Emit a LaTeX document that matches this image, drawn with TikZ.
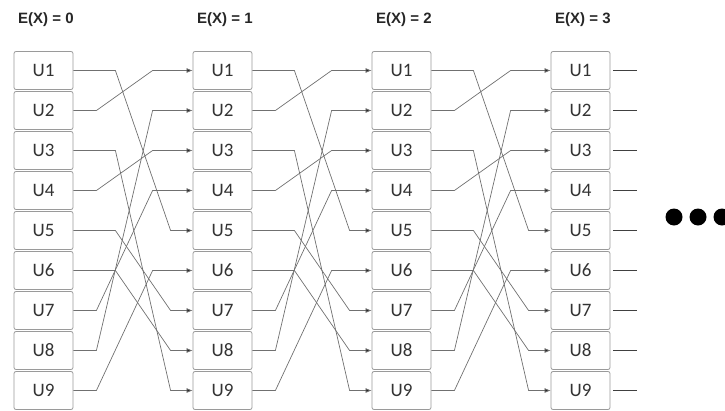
\documentclass[tikz,border=0pt]{standalone}
\usepackage{fontspec}
\setmainfont{Carlito}
\newfontfamily\hdfont{Liberation Sans}
\usetikzlibrary{arrows.meta}
\definecolor{boxline}{HTML}{9A9A9A}
\definecolor{connline}{HTML}{707070}
\definecolor{txt}{HTML}{333333}
\tikzset{
  ubox/.style={draw=boxline, line width=0.8pt, rounded corners=2pt, minimum width=59pt, minimum height=38pt, inner sep=0pt, text=txt, font=\fontsize{19}{21}\selectfont},
  hdr/.style={anchor=west, inner sep=0pt, text=black!85, font=\hdfont\bfseries\fontsize{15}{17}\selectfont},
  conn/.style={draw=connline, line width=0.7pt, -{Latex[length=6pt,width=5pt,fill=black!85]}},
  stub/.style={draw=black!75, line width=1pt},
  bigdot/.style={circle, fill=black, inner sep=0pt, minimum size=17pt}
}
\begin{document}
\begin{tikzpicture}[x=1pt,y=-1pt]
\useasboundingbox (0,0) rectangle (725,410);
\foreach \c in {0,1,2,3} {
  \node[hdr] (h\c) at ({18+179*\c},20) {E(X) = \c};
  \foreach \k in {1,...,9} {
    \node[ubox] (c\c-\k) at ({43.5+179*\c},{70.5+40*(\k-1)}) {U\k};
  }
}
\foreach \c/\n in {0/1,1/2,2/3} {
  \foreach \s/\t in {1/5,3/9,5/7,6/8}
    \draw[conn] (c\c-\s.east) -- ++(42,0) -- ([xshift=-22pt]c\n-\t.west) -- (c\n-\t.west);
  \foreach \s/\t in {2/1,4/3,7/4,8/2,9/6}
    \draw[conn] (c\c-\s.east) -- ++(23,0) -- ([xshift=-40pt]c\n-\t.west) -- (c\n-\t.west);
}
\foreach \k in {1,...,9}
  \draw[stub] ([xshift=3pt]c3-\k.east) -- ++(24,0);
\node[bigdot] (d1) at (674,217) {};
\node[bigdot] (d2) at (698,217) {};
\node[bigdot] (d3) at (722,217) {};
\end{tikzpicture}
\end{document}
